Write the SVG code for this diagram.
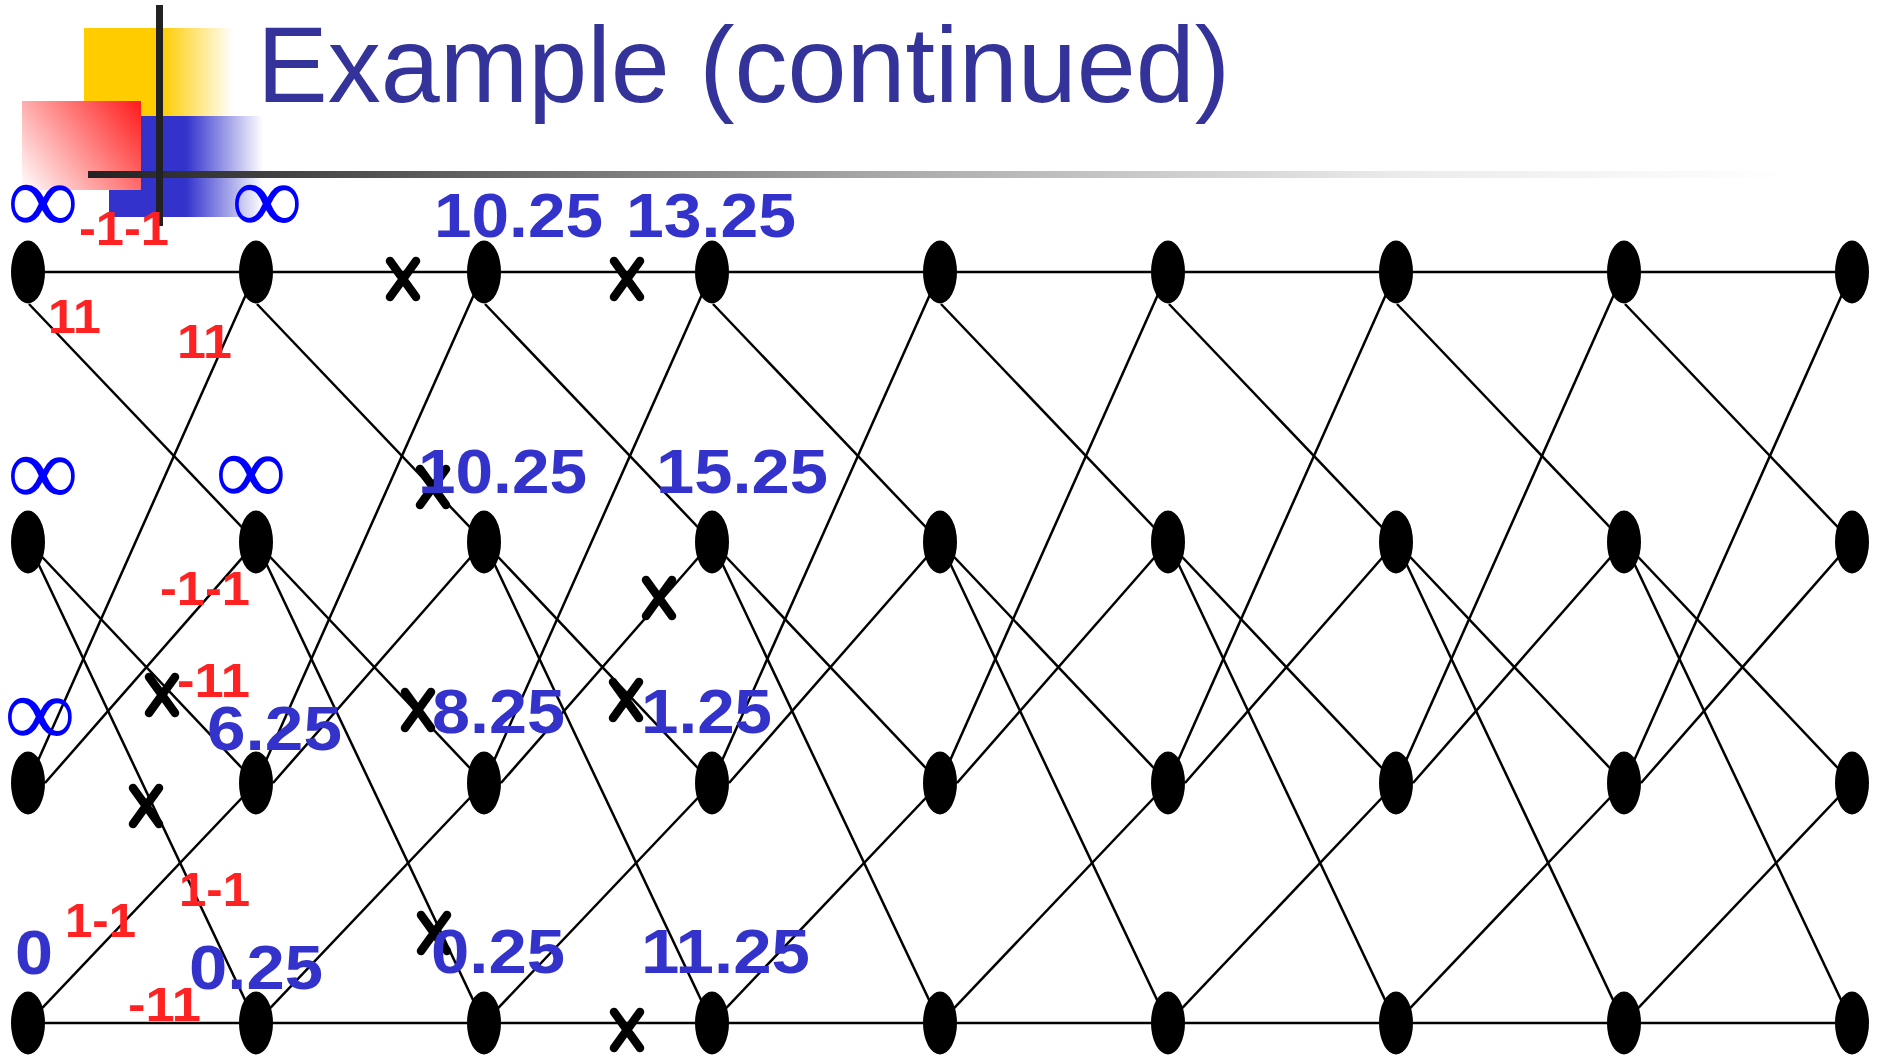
<svg xmlns="http://www.w3.org/2000/svg" width="1879" height="1059" viewBox="0 0 1879 1059">
<defs>
<style>
.e{stroke:#000;stroke-width:2.5;fill:none}
.n{fill:#000}
.b{font-family:"Liberation Sans",Arial,sans-serif;font-weight:bold;font-size:63px;fill:#3333CC}
.r{font-family:"Liberation Sans",Arial,sans-serif;font-weight:bold;font-size:49px;fill:#FF2222}
.inf{font-family:"Liberation Serif","Times New Roman",serif;font-size:100px;fill:#0000FF;text-anchor:middle}
.x{stroke:#000;stroke-width:8.5;stroke-linecap:round;fill:none}
</style>
<linearGradient id="gy" gradientUnits="userSpaceOnUse" x1="84" y1="0" x2="233" y2="0">
<stop offset="0" stop-color="#FFCC00"/><stop offset="0.52" stop-color="#FFCC00"/><stop offset="1" stop-color="#FFFFFF"/>
</linearGradient>
<linearGradient id="gb" gradientUnits="userSpaceOnUse" x1="109" y1="0" x2="263" y2="0">
<stop offset="0" stop-color="#3333CC"/><stop offset="0.5" stop-color="#3333CC"/><stop offset="1" stop-color="#FFFFFF"/>
</linearGradient>
<linearGradient id="gr" gradientUnits="userSpaceOnUse" x1="22" y1="190" x2="141" y2="101">
<stop offset="0" stop-color="#FFFFFF"/><stop offset="1" stop-color="#FF1A1A"/>
</linearGradient>
<linearGradient id="gl" gradientUnits="userSpaceOnUse" x1="88" y1="0" x2="1790" y2="0">
<stop offset="0" stop-color="#222222"/><stop offset="0.465" stop-color="#A8A8A8"/><stop offset="0.771" stop-color="#EBEBEB"/><stop offset="1" stop-color="#FFFFFF"/>
</linearGradient>
<path id="xm" d="M-13,-18 L13,18 M13,-18 L-13,18"/>
</defs>
<rect width="1879" height="1059" fill="#FFFFFF"/>
<g id="decor">
<rect x="84" y="28" width="149" height="92" fill="url(#gy)"/>
<rect x="109" y="116" width="154" height="101" fill="url(#gb)"/>
<rect x="22" y="101" width="119" height="89" fill="url(#gr)"/>
<rect x="88" y="171" width="1702" height="7" fill="url(#gl)"/>
<rect x="156" y="5" width="7" height="221" fill="#222222"/>
</g>
<text id="title" x="257" y="102" font-family="'Liberation Sans',Arial,sans-serif" font-size="107" fill="#333399" textLength="973" lengthAdjust="spacingAndGlyphs">Example (continued)</text>
<g id="connectors">
<line class="e" x1="28" y1="272" x2="256" y2="272"/><line class="e" x1="29" y1="304" x2="256" y2="542"/><line class="e" x1="28" y1="542" x2="256" y2="783"/><line class="e" x1="28" y1="542" x2="256" y2="1023"/><line class="e" x1="28" y1="783" x2="256" y2="272"/><line class="e" x1="45" y1="783" x2="256" y2="542"/><line class="e" x1="28" y1="1023" x2="256" y2="1023"/><line class="e" x1="28" y1="1023" x2="256" y2="783"/>
<line class="e" x1="256" y1="272" x2="484" y2="272"/><line class="e" x1="257" y1="304" x2="484" y2="542"/><line class="e" x1="256" y1="542" x2="484" y2="783"/><line class="e" x1="256" y1="542" x2="484" y2="1023"/><line class="e" x1="256" y1="783" x2="484" y2="272"/><line class="e" x1="273" y1="783" x2="484" y2="542"/><line class="e" x1="256" y1="1023" x2="484" y2="1023"/><line class="e" x1="256" y1="1023" x2="484" y2="783"/>
<line class="e" x1="484" y1="272" x2="712" y2="272"/><line class="e" x1="485" y1="304" x2="712" y2="542"/><line class="e" x1="484" y1="542" x2="712" y2="783"/><line class="e" x1="484" y1="542" x2="712" y2="1023"/><line class="e" x1="484" y1="783" x2="712" y2="272"/><line class="e" x1="501" y1="783" x2="712" y2="542"/><line class="e" x1="484" y1="1023" x2="712" y2="1023"/><line class="e" x1="484" y1="1023" x2="712" y2="783"/>
<line class="e" x1="712" y1="272" x2="940" y2="272"/><line class="e" x1="713" y1="304" x2="940" y2="542"/><line class="e" x1="712" y1="542" x2="940" y2="783"/><line class="e" x1="712" y1="542" x2="940" y2="1023"/><line class="e" x1="712" y1="783" x2="940" y2="272"/><line class="e" x1="729" y1="783" x2="940" y2="542"/><line class="e" x1="712" y1="1023" x2="940" y2="1023"/><line class="e" x1="712" y1="1023" x2="940" y2="783"/>
<line class="e" x1="940" y1="272" x2="1168" y2="272"/><line class="e" x1="941" y1="304" x2="1168" y2="542"/><line class="e" x1="940" y1="542" x2="1168" y2="783"/><line class="e" x1="940" y1="542" x2="1168" y2="1023"/><line class="e" x1="940" y1="783" x2="1168" y2="272"/><line class="e" x1="957" y1="783" x2="1168" y2="542"/><line class="e" x1="940" y1="1023" x2="1168" y2="1023"/><line class="e" x1="940" y1="1023" x2="1168" y2="783"/>
<line class="e" x1="1168" y1="272" x2="1396" y2="272"/><line class="e" x1="1169" y1="304" x2="1396" y2="542"/><line class="e" x1="1168" y1="542" x2="1396" y2="783"/><line class="e" x1="1168" y1="542" x2="1396" y2="1023"/><line class="e" x1="1168" y1="783" x2="1396" y2="272"/><line class="e" x1="1185" y1="783" x2="1396" y2="542"/><line class="e" x1="1168" y1="1023" x2="1396" y2="1023"/><line class="e" x1="1168" y1="1023" x2="1396" y2="783"/>
<line class="e" x1="1396" y1="272" x2="1624" y2="272"/><line class="e" x1="1397" y1="304" x2="1624" y2="542"/><line class="e" x1="1396" y1="542" x2="1624" y2="783"/><line class="e" x1="1396" y1="542" x2="1624" y2="1023"/><line class="e" x1="1396" y1="783" x2="1624" y2="272"/><line class="e" x1="1413" y1="783" x2="1624" y2="542"/><line class="e" x1="1396" y1="1023" x2="1624" y2="1023"/><line class="e" x1="1396" y1="1023" x2="1624" y2="783"/>
<line class="e" x1="1624" y1="272" x2="1852" y2="272"/><line class="e" x1="1625" y1="304" x2="1852" y2="542"/><line class="e" x1="1624" y1="542" x2="1852" y2="783"/><line class="e" x1="1624" y1="542" x2="1852" y2="1023"/><line class="e" x1="1624" y1="783" x2="1852" y2="272"/><line class="e" x1="1641" y1="783" x2="1852" y2="542"/><line class="e" x1="1624" y1="1023" x2="1852" y2="1023"/><line class="e" x1="1624" y1="1023" x2="1852" y2="783"/>
</g>
<g id="nodes">
<g id="n0-0"><ellipse class="n" cx="28" cy="272" rx="17" ry="31.5"/></g><g id="n0-1"><ellipse class="n" cx="28" cy="542" rx="17" ry="31.5"/></g><g id="n0-2"><ellipse class="n" cx="28" cy="783" rx="17" ry="31.5"/></g><g id="n0-3"><ellipse class="n" cx="28" cy="1023" rx="17" ry="31.5"/></g>
<g id="n1-0"><ellipse class="n" cx="256" cy="272" rx="17" ry="31.5"/></g><g id="n1-1"><ellipse class="n" cx="256" cy="542" rx="17" ry="31.5"/></g><g id="n1-2"><ellipse class="n" cx="256" cy="783" rx="17" ry="31.5"/></g><g id="n1-3"><ellipse class="n" cx="256" cy="1023" rx="17" ry="31.5"/></g>
<g id="n2-0"><ellipse class="n" cx="484" cy="272" rx="17" ry="31.5"/></g><g id="n2-1"><ellipse class="n" cx="484" cy="542" rx="17" ry="31.5"/></g><g id="n2-2"><ellipse class="n" cx="484" cy="783" rx="17" ry="31.5"/></g><g id="n2-3"><ellipse class="n" cx="484" cy="1023" rx="17" ry="31.5"/></g>
<g id="n3-0"><ellipse class="n" cx="712" cy="272" rx="17" ry="31.5"/></g><g id="n3-1"><ellipse class="n" cx="712" cy="542" rx="17" ry="31.5"/></g><g id="n3-2"><ellipse class="n" cx="712" cy="783" rx="17" ry="31.5"/></g><g id="n3-3"><ellipse class="n" cx="712" cy="1023" rx="17" ry="31.5"/></g>
<g id="n4-0"><ellipse class="n" cx="940" cy="272" rx="17" ry="31.5"/></g><g id="n4-1"><ellipse class="n" cx="940" cy="542" rx="17" ry="31.5"/></g><g id="n4-2"><ellipse class="n" cx="940" cy="783" rx="17" ry="31.5"/></g><g id="n4-3"><ellipse class="n" cx="940" cy="1023" rx="17" ry="31.5"/></g>
<g id="n5-0"><ellipse class="n" cx="1168" cy="272" rx="17" ry="31.5"/></g><g id="n5-1"><ellipse class="n" cx="1168" cy="542" rx="17" ry="31.5"/></g><g id="n5-2"><ellipse class="n" cx="1168" cy="783" rx="17" ry="31.5"/></g><g id="n5-3"><ellipse class="n" cx="1168" cy="1023" rx="17" ry="31.5"/></g>
<g id="n6-0"><ellipse class="n" cx="1396" cy="272" rx="17" ry="31.5"/></g><g id="n6-1"><ellipse class="n" cx="1396" cy="542" rx="17" ry="31.5"/></g><g id="n6-2"><ellipse class="n" cx="1396" cy="783" rx="17" ry="31.5"/></g><g id="n6-3"><ellipse class="n" cx="1396" cy="1023" rx="17" ry="31.5"/></g>
<g id="n7-0"><ellipse class="n" cx="1624" cy="272" rx="17" ry="31.5"/></g><g id="n7-1"><ellipse class="n" cx="1624" cy="542" rx="17" ry="31.5"/></g><g id="n7-2"><ellipse class="n" cx="1624" cy="783" rx="17" ry="31.5"/></g><g id="n7-3"><ellipse class="n" cx="1624" cy="1023" rx="17" ry="31.5"/></g>
<g id="n8-0"><ellipse class="n" cx="1852" cy="272" rx="17" ry="31.5"/></g><g id="n8-1"><ellipse class="n" cx="1852" cy="542" rx="17" ry="31.5"/></g><g id="n8-2"><ellipse class="n" cx="1852" cy="783" rx="17" ry="31.5"/></g><g id="n8-3"><ellipse class="n" cx="1852" cy="1023" rx="17" ry="31.5"/></g>
</g>
<g id="marks">
<use href="#xm" class="x" x="403" y="279"/>
<use href="#xm" class="x" x="627" y="279"/>
<use href="#xm" class="x" x="433" y="487"/>
<use href="#xm" class="x" x="659" y="598"/>
<use href="#xm" class="x" x="162" y="695"/>
<use href="#xm" class="x" x="146" y="806"/>
<use href="#xm" class="x" x="418" y="710"/>
<use href="#xm" class="x" x="626" y="700"/>
<use href="#xm" class="x" x="434" y="933"/>
<use href="#xm" class="x" x="627" y="1030"/>
</g>
<g id="labels">
<text class="inf" x="43" y="233">∞</text>
<text class="inf" x="267" y="233">∞</text>
<text class="inf" x="43" y="505">∞</text>
<text class="inf" x="251" y="504">∞</text>
<text class="inf" x="40" y="746">∞</text>
<text class="b" x="434" y="237" textLength="169" lengthAdjust="spacingAndGlyphs">10.25</text>
<text class="b" x="626" y="237" textLength="170" lengthAdjust="spacingAndGlyphs">13.25</text>
<text class="b" x="418" y="493" textLength="169" lengthAdjust="spacingAndGlyphs">10.25</text>
<text class="b" x="656" y="493" textLength="172" lengthAdjust="spacingAndGlyphs">15.25</text>
<text class="b" x="207" y="750" textLength="135" lengthAdjust="spacingAndGlyphs">6.25</text>
<text class="b" x="432" y="733" textLength="133" lengthAdjust="spacingAndGlyphs">8.25</text>
<text class="b" x="641" y="733" textLength="131" lengthAdjust="spacingAndGlyphs">1.25</text>
<text class="b" x="431" y="973" textLength="134" lengthAdjust="spacingAndGlyphs">0.25</text>
<text class="b" x="641" y="973" textLength="169" lengthAdjust="spacingAndGlyphs">11.25</text>
<text class="b" x="189" y="989" textLength="134" lengthAdjust="spacingAndGlyphs">0.25</text>
<text class="b" x="15" y="974" textLength="38" lengthAdjust="spacingAndGlyphs">0</text>
<text class="r" x="79" y="245" textLength="90" lengthAdjust="spacingAndGlyphs">-1-1</text>
<text class="r" x="48" y="333" textLength="53" lengthAdjust="spacingAndGlyphs">11</text>
<text class="r" x="177" y="358" textLength="55" lengthAdjust="spacingAndGlyphs">11</text>
<text class="r" x="160" y="605" textLength="90" lengthAdjust="spacingAndGlyphs">-1-1</text>
<text class="r" x="177" y="697" textLength="73" lengthAdjust="spacingAndGlyphs">-11</text>
<text class="r" x="179" y="906" textLength="71" lengthAdjust="spacingAndGlyphs">1-1</text>
<text class="r" x="65" y="937" textLength="71" lengthAdjust="spacingAndGlyphs">1-1</text>
<text class="r" x="128" y="1021" textLength="73" lengthAdjust="spacingAndGlyphs">-11</text>
</g>
</svg>
